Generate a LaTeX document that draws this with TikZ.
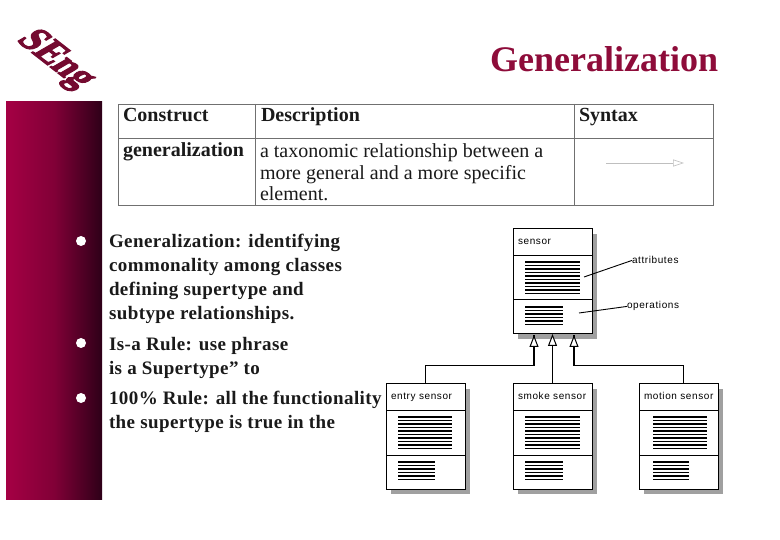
\documentclass[tikz,border=0pt]{standalone}
\usepackage{fontspec}
\setmainfont{Liberation Serif}
\setsansfont{Liberation Sans}
\usetikzlibrary{arrows.meta,calc,positioning}
\definecolor{maroon}{HTML}{8E0C3A}
\definecolor{logoc}{HTML}{740A30}
\definecolor{barL}{HTML}{A50044}
\definecolor{barR}{HTML}{2E0018}
\definecolor{shade}{HTML}{A0A0A0}
\definecolor{tbl}{HTML}{707070}
\definecolor{ink}{HTML}{1A1A1A}
\tikzset{
  x=1pt,y=-1pt,
  txt/.style={inner sep=0pt,outer sep=0pt,anchor=north west,align=left},
  body/.style={txt,text=ink,font=\fontsize{19}{24}\selectfont\bfseries\addfontfeature{LetterSpace=2.2}},
  cellb/.style={txt,anchor=base west,text=ink,font=\fontsize{20}{21.5}\selectfont\bfseries},
  cellr/.style={txt,text=ink,font=\fontsize{20}{21.5}\selectfont},
  lab/.style={txt,text=black,font=\fontsize{10}{10}\sffamily\selectfont\addfontfeature{LetterSpace=6}},
  classbox/.style={draw=black,line width=1pt,fill=white,inner sep=0pt,outer sep=0pt,anchor=north west,minimum width=79pt,minimum height=105pt},
  shadowbox/.style={fill=shade},
  rule/.style={draw=black,line width=1pt},
  gridl/.style={draw=tbl,line width=.9pt},
  gen/.style={draw=black,line width=1pt,-{Triangle[open,fill=white,length=12pt,width=9pt,line width=1pt]}},
  stem/.style={draw=black,line width=2pt},
  bul/.style={circle,fill=white,inner sep=0pt,minimum size=10pt},
  leader/.style={draw=black,line width=.9pt},
}
\newcommand{\hatch}[4]{%
  \foreach \k in {0,...,#4}{\draw[black,line width=1.1pt] (#1,#3+\k*3.5) -- (#2,#3+\k*3.5);}}
\newcommand{\classfig}[7]{% name,x,y,title,xl,xr1,xr2
  \fill[shadowbox] (#2+5,#3+5) rectangle (#2+84,#3+110);
  \node[classbox] (#1) at (#2,#3) {};
  \draw[rule] (#2,#3+26.5) -- (#2+79,#3+26.5);
  \draw[rule] (#2,#3+71) -- (#2+79,#3+71);
  \node[lab,anchor=base west] (#1t) at (#2+5,#3+15.5) {#4};
  \hatch{#5}{#6}{#3+33}{9}
  \hatch{#5}{#7}{#3+78}{5}
}
\begin{document}
\begin{tikzpicture}
\useasboundingbox (0,0) rectangle (780,540);
\fill[white] (0,0) rectangle (780,540);
% logo
\node[text=logoc,font=\fontsize{38}{38}\selectfont\bfseries\addfontfeature{FakeBold=3},inner sep=0pt,cm={.72,-.56,.95,.55,(0,0)}] (logo) at (55,60) {SEng};
% title
\node[txt,anchor=base east,text=maroon,font=\fontsize{36}{36}\selectfont\bfseries] (title) at (718,72) {Generalization};
% bar
\shade[left color=barL,right color=barR,middle color=barL!70!barR] (6,102) rectangle (102,499);
% table
\draw[gridl] (118,104) rectangle (713,205);
\draw[gridl] (118,138) -- (713,138);
\draw[gridl] (255,104) -- (255,205);
\draw[gridl] (574,104) -- (574,205);
\node[cellb] (h1) at (123,122) {Construct};
\node[cellb] (h2) at (261,122) {Description};
\node[cellb] (h3) at (579,122) {Syntax};
\node[cellb] (c1) at (123,157) {generalization};
\node[cellr] (c2) at (260,144) {a taxonomic relationship between a\\more general and a more specific\\element.};
\coordinate (sy1) at (606,163);
\coordinate (sy2) at (684,163);
\draw[draw=black!25,line width=.6pt,-{Triangle[open,length=11pt,width=7pt]}] (sy1) -- (sy2);
% bullets + text
\node[bul] (b1) at (81,241) {};
\node[body] (t1) at (109,234) {Generalization: identifying\\commonality among classes\\defining supertype and\\subtype relationships.};
\node[bul] (b2) at (81,343) {};
\node[body] (t2) at (109,337) {Is-a Rule: use phrase\\is a Supertype” to};
\node[bul] (b3) at (81,398) {};
\node[body] (t3) at (109,391) {100\% Rule: all the functionality\\the supertype is true in the};
% classes
\classfig{sensor}{513}{229}{sensor}{525}{580}{563}
\classfig{entry}{386}{384}{entry sensor}{398}{452}{435}
\classfig{smoke}{513}{384}{smoke sensor}{525}{580}{563}
\classfig{motion}{639}{384}{motion sensor}{653}{707}{689}
% labels
\node[lab,anchor=base west] (attr) at (632,264) {attributes};
\node[lab,anchor=base west] (oper) at (627,309) {operations};
\draw[leader] (attr.west) -- (584,277);
\draw[leader] (oper.west) -- (579,313);
% generalization
\coordinate (ltip) at ($(sensor.south west)+(21,1)$);
\coordinate (rtip) at ($(sensor.south west)+(61,1)$);
\coordinate (rdrop) at ($(motion.north west)+(44,0)$);
\draw[stem] (ltip |- 0,366) -- (ltip);
\draw[stem] (rtip |- 0,366) -- (rtip);
\draw[gen] (entry.north) -- ++(0,-18) -| (ltip);
\draw[gen] (smoke.north) -- (smoke.north |- sensor.south);
\draw[gen] (rdrop) -- ++(0,-18) -| (rtip);
\end{tikzpicture}
\end{document}
